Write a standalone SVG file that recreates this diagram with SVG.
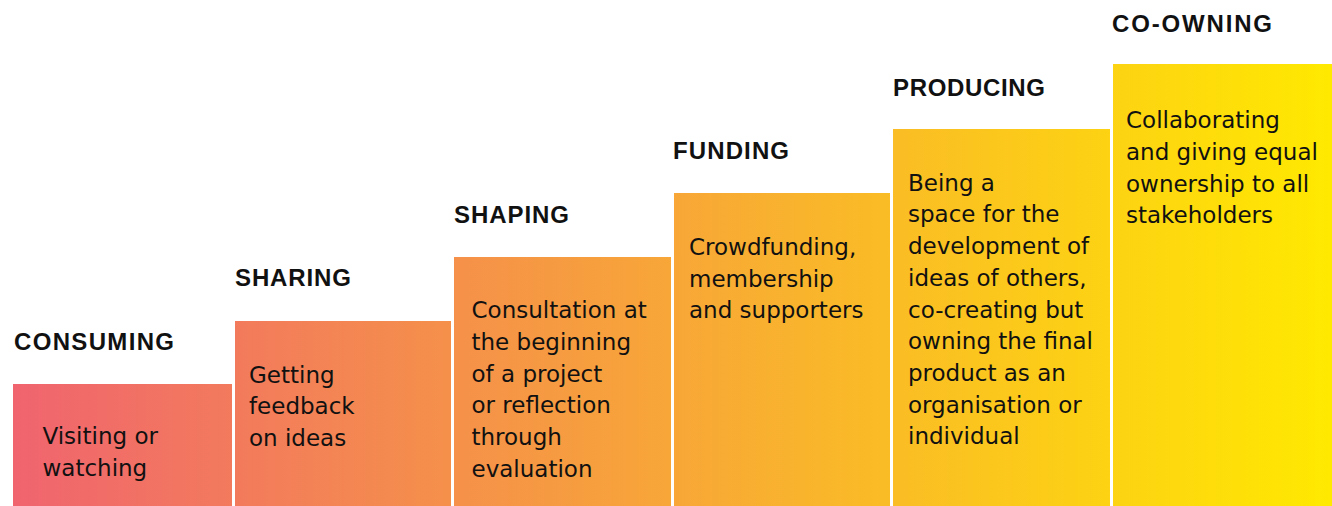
<svg xmlns="http://www.w3.org/2000/svg" width="1332" height="506" viewBox="0 0 1332 506">
<defs>
<linearGradient id="grad" gradientUnits="userSpaceOnUse" x1="13" y1="0" x2="1332" y2="0">
<stop offset="0" stop-color="#F0646F"/>
<stop offset="1" stop-color="#FFE900"/>
</linearGradient>
<style>
.bar{fill:url(#grad);}
.title{font-family:"Liberation Sans",Arial,sans-serif;font-weight:bold;font-size:24px;fill:#111;}
.body{font-family:"DejaVu Sans",sans-serif;font-size:23px;fill:#111;}
</style>
</defs>
<rect width="1332" height="506" fill="#fff"/>
<g id="consuming">
<rect class="bar" x="13" y="384" width="219" height="122"/>
<text class="title" x="14" y="350" textLength="160" lengthAdjust="spacing">CONSUMING</text>
<text class="body" x="42.5"><tspan x="42.5" y="444">Visiting or</tspan><tspan x="42.5" y="475.7">watching</tspan></text>
</g>
<g id="sharing">
<rect class="bar" x="235" y="321" width="216" height="185"/>
<text class="title" x="235" y="286" textLength="116" lengthAdjust="spacing">SHARING</text>
<text class="body"><tspan x="249" y="382.7">Getting</tspan><tspan x="249" y="414.4">feedback</tspan><tspan x="249" y="446.1">on ideas</tspan></text>
</g>
<g id="shaping">
<rect class="bar" x="454" y="257" width="217" height="249"/>
<text class="title" x="454" y="223" textLength="115" lengthAdjust="spacing">SHAPING</text>
<text class="body"><tspan x="471.5" y="318.3">Consultation at</tspan><tspan x="471.5" y="350">the beginning</tspan><tspan x="471.5" y="381.7">of a project</tspan><tspan x="471.5" y="413.4">or reflection</tspan><tspan x="471.5" y="445.1">through</tspan><tspan x="471.5" y="476.8">evaluation</tspan></text>
</g>
<g id="funding">
<rect class="bar" x="674" y="193" width="216" height="313"/>
<text class="title" x="673" y="159" textLength="116" lengthAdjust="spacing">FUNDING</text>
<text class="body"><tspan x="689" y="255">Crowdfunding,</tspan><tspan x="689" y="286.7">membership</tspan><tspan x="689" y="318.4">and supporters</tspan></text>
</g>
<g id="producing">
<rect class="bar" x="893" y="129" width="217" height="377"/>
<text class="title" x="893" y="96" textLength="152" lengthAdjust="spacing">PRODUCING</text>
<text class="body"><tspan x="908" y="190.7">Being a</tspan><tspan x="908" y="222.4">space for the</tspan><tspan x="908" y="254.1">development of</tspan><tspan x="908" y="285.8">ideas of others,</tspan><tspan x="908" y="317.5">co-creating but</tspan><tspan x="908" y="349.2">owning the final</tspan><tspan x="908" y="380.9">product as an</tspan><tspan x="908" y="412.6">organisation or</tspan><tspan x="908" y="444.3">individual</tspan></text>
</g>
<g id="co-owning">
<rect class="bar" x="1113" y="64" width="219" height="442"/>
<text class="title" x="1112" y="32" textLength="160" lengthAdjust="spacing">CO-OWNING</text>
<text class="body"><tspan x="1126" y="128.3">Collaborating</tspan><tspan x="1126" y="160">and giving equal</tspan><tspan x="1126" y="191.7">ownership to all</tspan><tspan x="1126" y="223.4">stakeholders</tspan></text>
</g>
<g id="connectors"></g>
</svg>
